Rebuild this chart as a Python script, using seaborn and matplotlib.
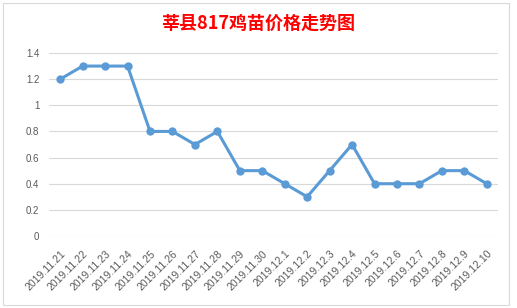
import matplotlib
matplotlib.use("Agg")
import matplotlib.pyplot as plt
import seaborn as sns
import pandas as pd
from matplotlib.patches import Rectangle

dates = ["2019.11.21", "2019.11.22", "2019.11.23", "2019.11.24", "2019.11.25",
         "2019.11.26", "2019.11.27", "2019.11.28", "2019.11.29", "2019.11.30",
         "2019.12.1", "2019.12.2", "2019.12.3", "2019.12.4", "2019.12.5",
         "2019.12.6", "2019.12.7", "2019.12.8", "2019.12.9", "2019.12.10"]
prices = [1.2, 1.3, 1.3, 1.3, 0.8, 0.8, 0.7, 0.8, 0.5, 0.5,
          0.4, 0.3, 0.5, 0.7, 0.4, 0.4, 0.4, 0.5, 0.5, 0.4]
yticks = [0, 0.2, 0.4, 0.6, 0.8, 1, 1.2, 1.4]
ytick_labels = ["0", "0.2", "0.4", "0.6", "0.8", "1", "1.2", "1.4"]
title = "莘县817鸡苗价格走势图"

sns.set_theme(style="white")
plt.rcParams['font.family'] = ['Noto Sans CJK SC', 'DejaVu Sans']

df = pd.DataFrame({"date": dates, "price": prices, "idx": range(len(dates))})

fig = plt.figure(figsize=(5.17, 3.08), dpi=100)
fig.patch.set_facecolor("white")
# chart border
fig.add_artist(Rectangle((3/517, 3/308), 506/517, 302/308, transform=fig.transFigure,
                         fill=False, edgecolor="#D9D9D9", linewidth=0.8))

ax = fig.add_axes([49/517, 1-236/308, (498-49)/517, (236-53)/308])
sns.lineplot(data=df, x="idx", y="price", ax=ax, color="#5B9BD5", linewidth=2.2,
             marker="o", markersize=6, markeredgewidth=0, markeredgecolor="#5B9BD5")
ax.set_xlim(-0.5, len(dates) - 0.5)
ax.set_ylim(0, 1.4)
ax.set_yticks(yticks)
ax.set_yticklabels(ytick_labels, fontsize=7, color="#595959", family=['Liberation Sans', 'DejaVu Sans'])
ax.set_xticks(range(len(dates)))
ax.set_xticklabels(dates, fontsize=7.5, color="#595959", rotation=45, ha="right",
                   rotation_mode="anchor", family=['Liberation Sans', 'DejaVu Sans'])
ax.tick_params(axis="both", length=0, pad=7)
ax.tick_params(axis="x", pad=9)
ax.grid(axis="y", color="#D9D9D9", linewidth=0.8)
ax.grid(axis="x", visible=False)
for s in ax.spines.values():
    s.set_visible(False)
ax.set_xlabel("")
ax.set_ylabel("")
fig.text(258/517, 1-23/308, title, ha="center", va="center", fontsize=13,
         fontweight="bold", color="#FF0000")
fig.savefig("out.png", dpi=100)
